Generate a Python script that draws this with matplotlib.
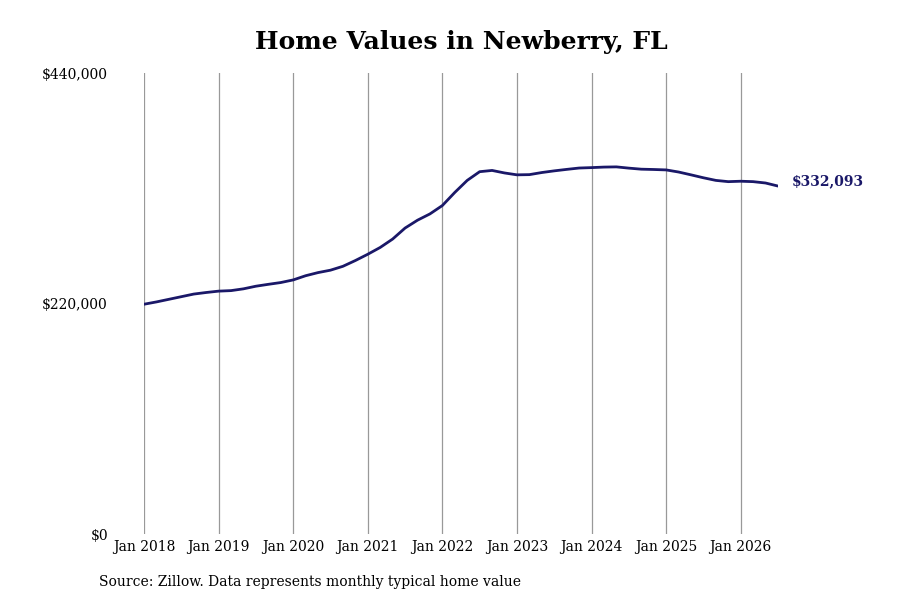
import matplotlib.pyplot as plt

# months since Jan 2018, every two months
months = list(range(0, 103, 2))
values = [219300, 221500, 224000, 226500, 229000, 230500,
          231800, 232300, 234000, 236500, 238300, 240000,
          242500, 246500, 249500, 251800, 255500, 261000,
          267000, 273500, 281500, 292000, 299500, 305500,
          313500, 326000, 337500, 345800, 347000, 344600,
          342800, 343000, 345000, 346600, 348000, 349300,
          349700, 350200, 350400, 349200, 348200, 347900,
          347500, 345500, 342800, 340000, 337500, 336300,
          336700, 336300, 335000, 332093]
tick_months = [0, 12, 24, 36, 48, 60, 72, 84, 96]
tick_labels = ['Jan 2018', 'Jan 2019', 'Jan 2020', 'Jan 2021', 'Jan 2022',
               'Jan 2023', 'Jan 2024', 'Jan 2025', 'Jan 2026']
y_ticks = [0, 220000, 440000]
y_labels = ['$0', '$220,000', '$440,000']

plt.rcParams['font.family'] = 'DejaVu Serif'
navy = '#1a1868'

fig = plt.figure(figsize=(9, 6), dpi=100)
ax = fig.add_axes([144 / 900, 1 - 534 / 600, (778 - 144) / 900, (534 - 73) / 600])

ax.plot(months, values, color=navy, linewidth=2.0, solid_capstyle='round',
        solid_joinstyle='round')
ax.text(months[-1] + 2.2, values[-1] + 4500, '${:,}'.format(values[-1]),
        color=navy, fontsize=10, fontweight='bold', va='center', ha='left')

ax.set_xlim(0, 102)
ax.set_ylim(0, 440000)
ax.set_xticks(tick_months)
ax.set_xticklabels(tick_labels, fontsize=10)
ax.set_yticks(y_ticks)
ax.set_yticklabels(y_labels, fontsize=10)
ax.tick_params(axis='x', length=0, pad=4)
ax.tick_params(axis='y', length=0, pad=26)
ax.grid(axis='x', color='#999999', linewidth=0.9)
for s in ax.spines.values():
    s.set_visible(False)

fig.text(461 / 900, 1 - 42 / 600, 'Home Values in Newberry, FL',
         fontsize=18, fontweight='bold', ha='center', va='center')
fig.text(99 / 900, 1 - 582 / 600, 'Source: Zillow. Data represents monthly typical home value',
         fontsize=10, ha='left', va='center')

fig.savefig('out.png', dpi=100)
